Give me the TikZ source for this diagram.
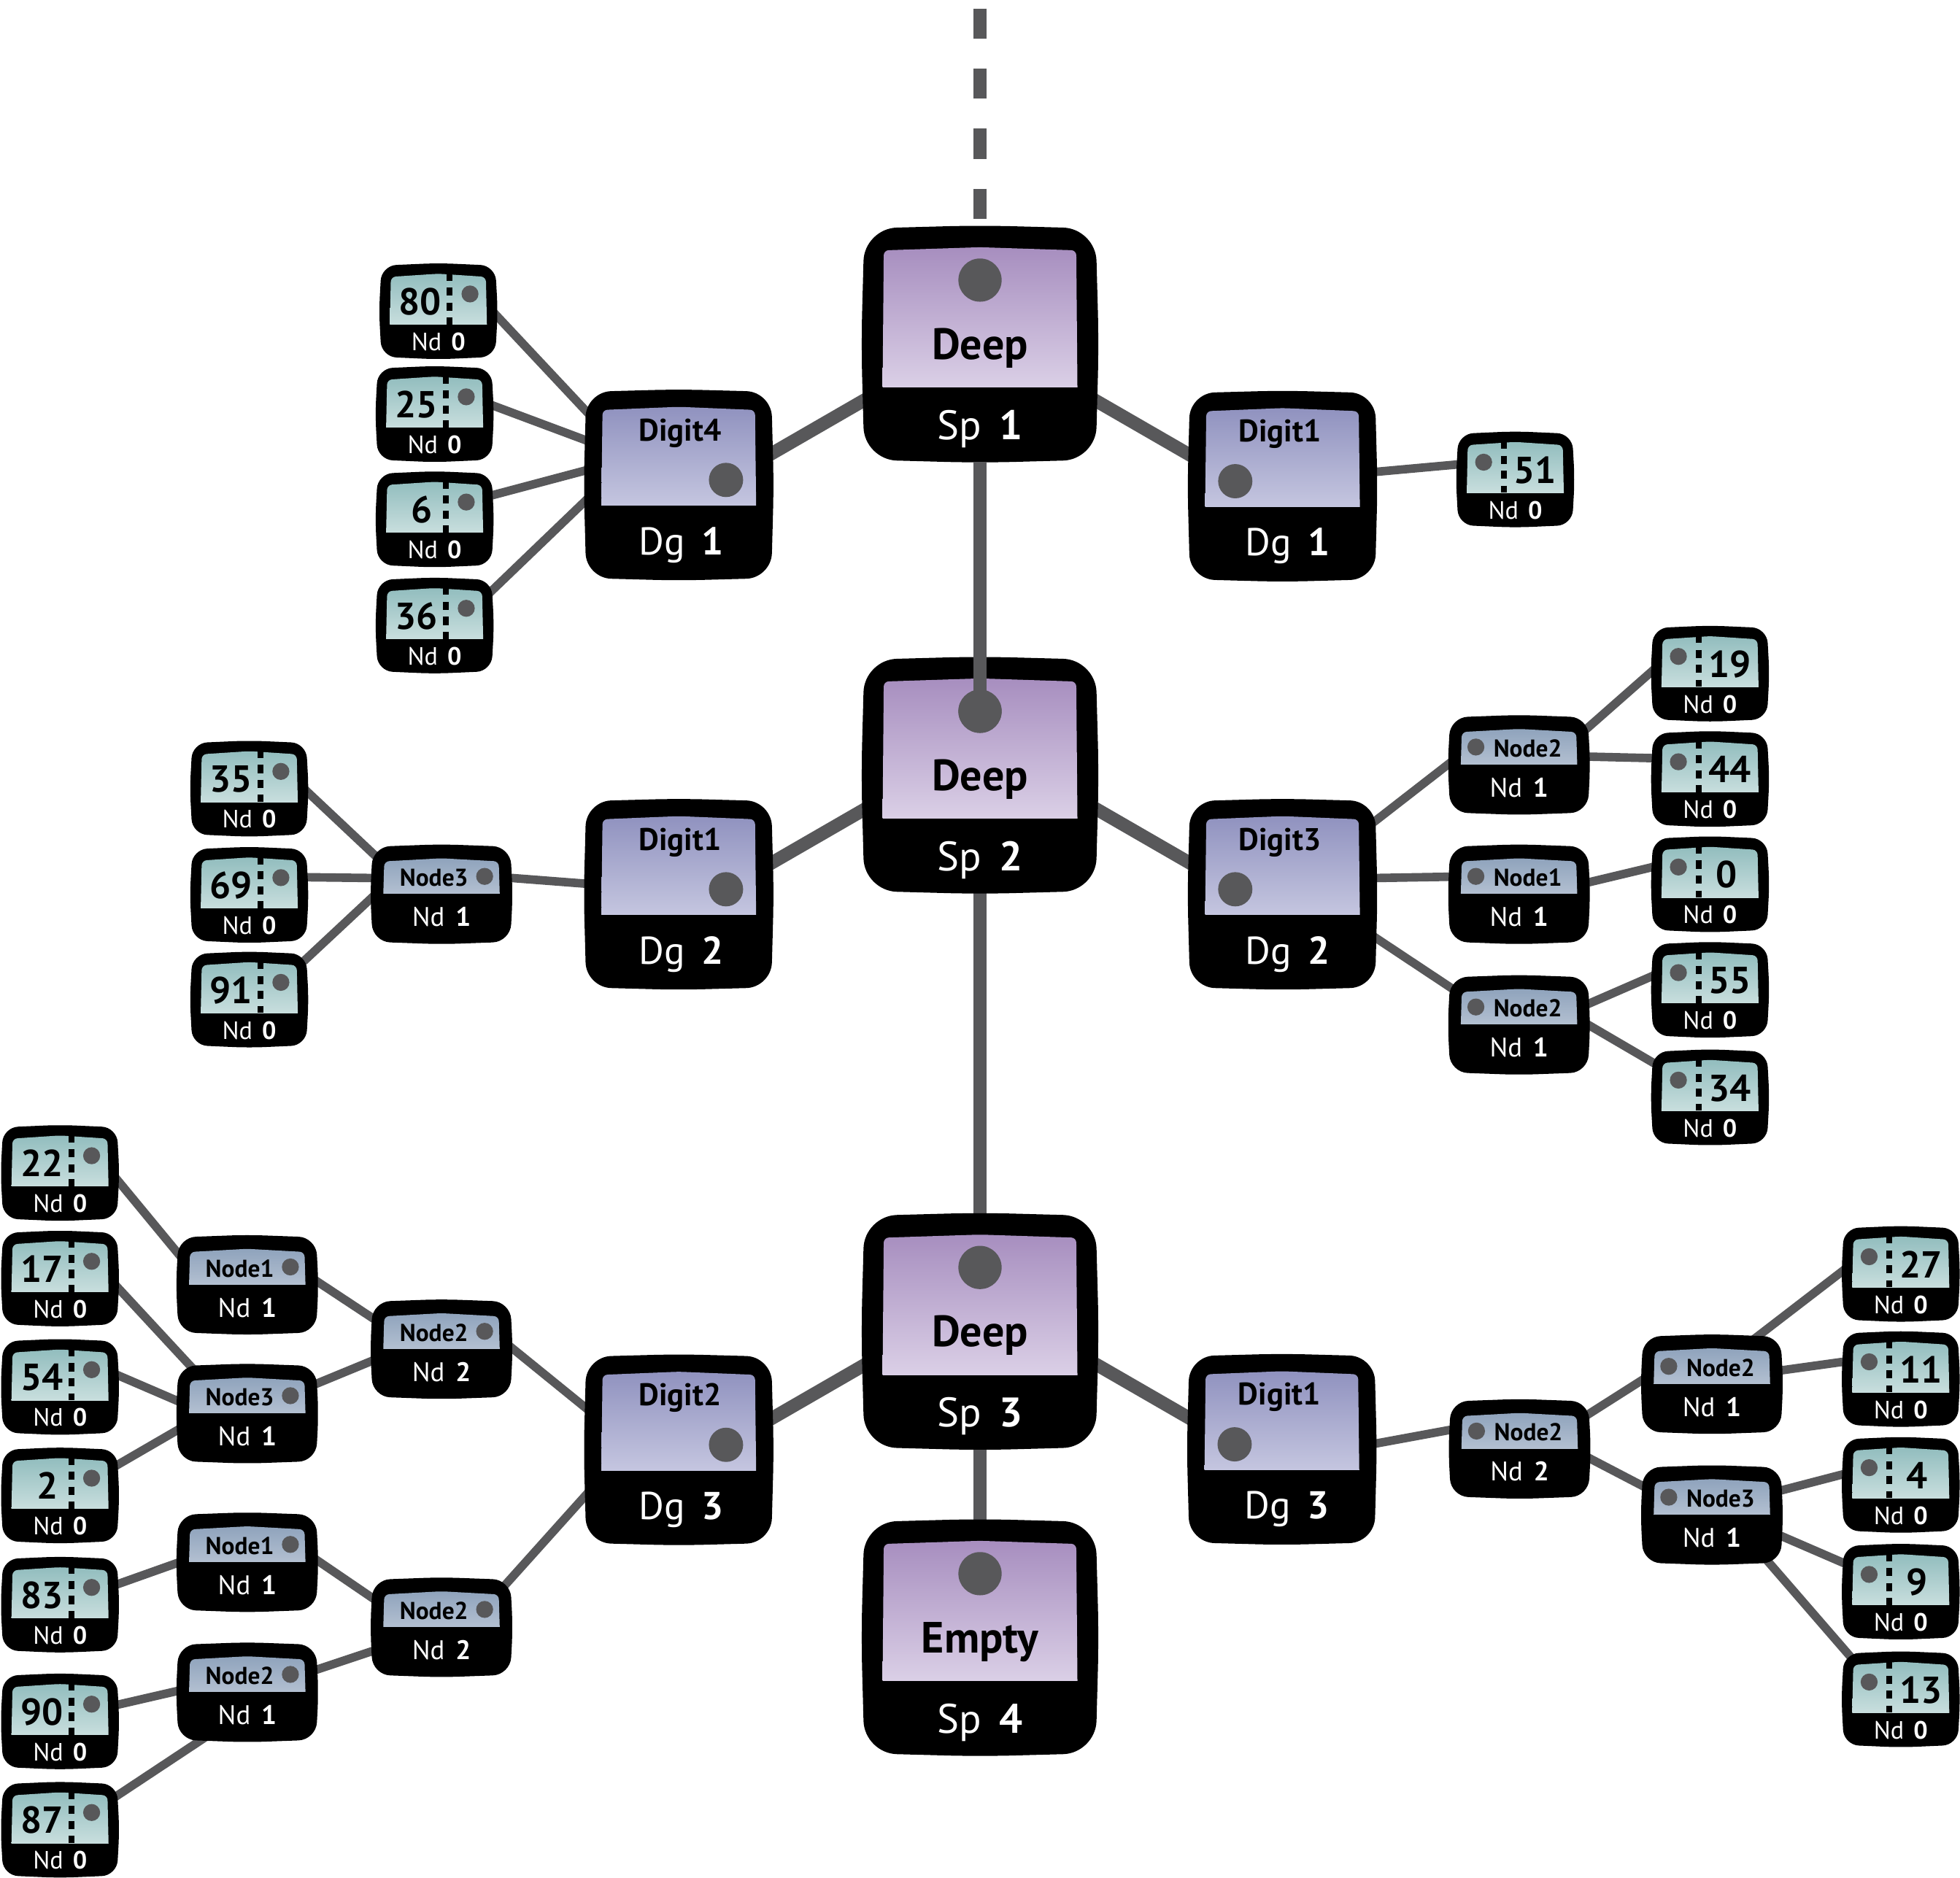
\documentclass[tikz,border=0pt]{standalone}
\usepackage{fontspec}
\setmainfont{PT Sans}
\usetikzlibrary{calc}
\pgfdeclarelayer{bg}
\pgfdeclarelayer{fg}
\pgfsetlayers{bg,main,fg}
\definecolor{conncol}{HTML}{58585A}
\definecolor{deepTop}{HTML}{A78EBF}
\definecolor{deepBot}{HTML}{DED4E9}
\definecolor{digTop}{HTML}{9092BF}
\definecolor{digBot}{HTML}{CACBE3}
\definecolor{nodeTop}{HTML}{8FA3BC}
\definecolor{nodeBot}{HTML}{BDC8D7}
\definecolor{leafTop}{HTML}{92BDBE}
\definecolor{leafBot}{HTML}{D3E5E4}
\newcommand\fDeep{\fontsize{35}{35}\selectfont\bfseries}
\newcommand\fSp{\fontsize{33}{33}\selectfont}
\newcommand\fDigit{\fontsize{25}{25}\selectfont\bfseries}
\newcommand\fDg{\fontsize{31}{31}\selectfont}
\newcommand\fNode{\fontsize{19.5}{19.5}\selectfont\bfseries}
\newcommand\fNd{\fontsize{21.5}{21.5}\selectfont}
\newcommand\fLeaf{\fontsize{30}{30}\selectfont\bfseries}
\newcommand\fLnd{\fontsize{20}{20}\selectfont}
\tikzset{
  conn/.style={draw=conncol, line width=6.8pt, shorten <=-6pt, shorten >=-6pt},
  spconn/.style={draw=conncol, line width=10.5pt},
  boxanchor/.style={draw=none, inner sep=0pt, outer sep=0pt, rectangle},
  txt/.style={anchor=base, inner sep=0pt, outer sep=0pt},
  dotc/.style={fill=conncol},
}
% cx cy hw hh r bulge
\newcommand\tvshape[6]{%
  \fill[black, rounded corners=#5] ({#1},{#2-#4}) -- ({#1+#3-#6},{#2-#4+#6}) -- ({#1+#3},{#2}) -- ({#1+#3-#6},{#2+#4-#6}) -- ({#1},{#2+#4}) -- ({#1-#3+#6},{#2+#4-#6}) -- ({#1-#3},{#2}) -- ({#1-#3+#6},{#2-#4+#6}) -- cycle;}
% x0 ytop x1 ybot topcolor botcolor
\newcommand\tvpanel[6]{%
  \begin{scope}
    \clip ({#1-2},{#2-4}) rectangle ({#3+2},{#4});
    \shade[top color=#5, bottom color=#6, rounded corners=4pt] ({#1},{#4+8}) -- ({#1+1},{#2+2.5}) -- ({(#1+#3)/2},{#2}) -- ({#3-1},{#2+2.5}) -- ({#3},{#4+8}) -- cycle;
  \end{scope}}
% name cx cy label num
\newcommand\spbox[5]{%
  \tvshape{#2}{#3}{95}{95}{26}{2.5}
  \node[boxanchor, minimum width=188pt, minimum height=189pt] (#1) at ({#2},{#3}) {};
  \tvpanel{#2-78}{#3-77.5}{#2+78}{#3+34.5}{deepTop}{deepBot}
  \coordinate (#1dot) at ({#2},{#3-51.2});
  \fill[dotc] (#1dot) circle (17.3);
  \node[txt, font=\fDeep] (#1-lab) at ({#2},{#3+12}) {#4};
  \node[txt, font=\fSp, text=white] (#1-num) at ({#2},{#3+76.5}) {Sp\hspace{0.42em}\textbf{#5}};
}
% name cx cy label num side
\newcommand\digitbox[6]{%
  \tvshape{#2}{#3}{76}{76.5}{20}{2}
  \node[boxanchor, minimum width=150pt, minimum height=152pt] (#1) at ({#2},{#3}) {};
  \tvpanel{#2-62}{#3-62.5}{#2+62}{#3+16.5}{digTop}{digBot}
  \coordinate (#1dot) at ({#2+37.8*#6},{#3-4});
  \fill[dotc] (#1dot) circle (13.7);
  \node[txt, font=\fDigit] (#1-lab) at ({#2-0.5+1.5*#6},{#3-35.3}) {#4};
  \node[txt, font=\fDg, text=white] (#1-num) at ({#2+3-#6},{#3+55.7}) {Dg\hspace{0.42em}\textbf{#5}};
}
% name cx cy label num side
\newcommand\nodebox[6]{%
  \tvshape{#2}{#3}{57}{40}{14}{2}
  \node[boxanchor, minimum width=113pt, minimum height=79pt] (#1) at ({#2},{#3}) {};
  \tvpanel{#2-46.8}{#3-28.8}{#2+46.8}{#3-0.5}{nodeTop}{nodeBot}
  \fill[dotc] ({#2+34.5*#6},{#3-14.3}) circle (6.8);
  \node[txt, font=\fNode] (#1-lab) at ({#2+0.5-6.5*#6},{#3-6.4}) {#4};
  \node[txt, font=\fNd, text=white] (#1-num) at ({#2},{#3+25.7}) {Nd\hspace{0.4em}\textbf{#5}};
}
% name cx cy number numdx side
\newcommand\leafbox[6]{%
  \tvshape{#2}{#3}{47.5}{38.5}{12}{2}
  \node[boxanchor, minimum width=94pt, minimum height=76pt] (#1) at ({#2},{#3}) {};
  \tvpanel{#2-39}{#3-30}{#2+39}{#3+10.6}{leafTop}{leafBot}
  \draw[black, line width=4.6pt, dash pattern=on 6.5pt off 5.5pt] ({#2+9*#6},{#3-31}) -- ({#2+9*#6},{#3+10.6});
  \fill[dotc] ({#2+25.3*#6},{#3-13.8}) circle (6.8);
  \node[txt, font=\fLeaf] (#1-lab) at ({#2+#5},{#3+2.9}) {#4};
  \node[txt, font=\fLnd, text=white] (#1-num) at ({#2},{#3+31.5}) {Nd\hspace{0.38em}\textbf{0}};
}
\newcommand\lnk[6]{\draw[conn] ([shift={(#2,#3)}]#1.center) -- ([shift={(#5,#6)}]#4.center);}
\begin{document}
\begin{tikzpicture}[x=1pt,y=-1pt]
\useasboundingbox (0,0) rectangle (1568,1502.6);
\coordinate (topend) at (784,7);
% spine
\spbox{sp1}{784}{275.3}{Deep}{1}
\spbox{sp2}{784}{620.3}{Deep}{2}
\spbox{sp3}{784}{1065.3}{Deep}{3}
\spbox{sp4}{784}{1310.3}{Empty}{4}
% digits
\digitbox{d4}{543}{388}{Digit4}{1}{1}
\digitbox{d1a}{1026}{389}{Digit1}{1}{(-1)}
\digitbox{d1b}{543}{715.5}{Digit1}{2}{1}
\digitbox{d3}{1026}{715.5}{Digit3}{2}{(-1)}
\digitbox{d2}{543}{1160}{Digit2}{3}{1}
\digitbox{d1c}{1025.5}{1159.6}{Digit1}{3}{(-1)}
% inner nodes
\nodebox{n3a}{353.2}{715.5}{Node3}{1}{1}
\nodebox{n2u}{353.2}{1079.5}{Node2}{2}{1}
\nodebox{n2l}{353.2}{1302}{Node2}{2}{1}
\nodebox{n1a}{197.8}{1028}{Node1}{1}{1}
\nodebox{n3b}{197.8}{1131}{Node3}{1}{1}
\nodebox{n1c}{197.8}{1250}{Node1}{1}{1}
\nodebox{n2d}{197.8}{1354}{Node2}{1}{1}
\nodebox{n2a}{1215.2}{612}{Node2}{1}{(-1)}
\nodebox{n1}{1215.2}{715.5}{Node1}{1}{(-1)}
\nodebox{n2b}{1215.2}{820}{Node2}{1}{(-1)}
\nodebox{n2m}{1215.7}{1159.3}{Node2}{2}{(-1)}
\nodebox{n2r}{1369.5}{1107.5}{Node2}{1}{(-1)}
\nodebox{n3r}{1369.5}{1212.2}{Node3}{1}{(-1)}
% leaves
\leafbox{l80}{350.7}{249}{80}{(-14.5)}{1}
\leafbox{l25}{347.7}{331.3}{25}{(-14.5)}{1}
\leafbox{l6}{347.7}{415.5}{6}{(-10)}{1}
\leafbox{l36}{347.7}{500.5}{36}{(-14.5)}{1}
\leafbox{l35}{199.4}{631}{35}{(-14.5)}{1}
\leafbox{l69}{199.4}{716}{69}{(-14.5)}{1}
\leafbox{l91}{199.4}{799.8}{91}{(-14.5)}{1}
\leafbox{l22}{48}{938.5}{22}{(-14.5)}{1}
\leafbox{l17}{48}{1023}{17}{(-14.5)}{1}
\leafbox{l54}{48}{1109.7}{54}{(-14.5)}{1}
\leafbox{l2}{48}{1196.5}{2}{(-10)}{1}
\leafbox{l83}{48}{1283.9}{83}{(-14.5)}{1}
\leafbox{l90}{48}{1377.3}{90}{(-14.5)}{1}
\leafbox{l87}{48}{1464}{87}{(-14.5)}{1}
\leafbox{l51}{1212.2}{383.6}{51}{16}{(-1)}
\leafbox{l19}{1368}{539}{19}{16}{(-1)}
\leafbox{l44}{1368}{623.3}{44}{16}{(-1)}
\leafbox{l0}{1368}{707.5}{0}{13}{(-1)}
\leafbox{l55}{1368}{792}{55}{16}{(-1)}
\leafbox{l34}{1368}{878}{34}{16}{(-1)}
\leafbox{l27}{1520.6}{1019.3}{27}{16}{(-1)}
\leafbox{l11}{1520.6}{1103.4}{11}{16}{(-1)}
\leafbox{l4}{1520.6}{1188.1}{4}{13}{(-1)}
\leafbox{l9}{1520.6}{1273.5}{9}{13}{(-1)}
\leafbox{l13}{1520.6}{1359.6}{13}{16}{(-1)}
% connectors behind the boxes
\begin{pgfonlayer}{bg}
\draw[spconn, dash pattern=on 24pt off 24pt] (topend) -- (sp1.center);
\draw[spconn] (sp2) -- (sp3);
\draw[spconn] (sp3) -- (sp4);
\draw[spconn] (d4dot) -- ++(-30:200);
\draw[spconn] (d1bdot) -- ++(-30:200);
\draw[spconn] (d2dot) -- ++(-30:200);
\draw[spconn] (d1adot) -- ++(-150:200);
\draw[spconn] (d3dot) -- ++(-150:200);
\draw[spconn] (d1cdot) -- ++(-150:200);
\lnk{l80}{47}{4}{d4}{-75}{-60}
\lnk{l25}{48}{-6.3}{d4}{-75}{-36}
\lnk{l6}{47}{-19.5}{d4}{-75}{-11.5}
\lnk{l36}{43.5}{-25.7}{d4}{-75}{13}
\lnk{d1a}{75}{-11.5}{l51}{-46}{-12}
\lnk{l35}{47.4}{3.4}{n3a}{-50.6}{-28.6}
\lnk{l69}{47.4}{-14.1}{n3a}{-55.5}{-13}
\lnk{l91}{44}{-31.1}{n3a}{-55.5}{2.5}
\lnk{n3a}{56.5}{-13}{d1b}{-75}{-8.5}
\lnk{d3}{74}{-58.5}{n2a}{-56}{-1}
\lnk{n2a}{51.6}{-26.7}{l19}{-46.7}{-1.7}
\lnk{n2a}{56.5}{-6.6}{l44}{-45.8}{-16.7}
\lnk{d3}{75}{-13}{n1}{-56.4}{-14}
\lnk{n1}{55.5}{-9.5}{l0}{-45.8}{-13.8}
\lnk{d3}{74}{34.5}{n2b}{-55.4}{-30.3}
\lnk{n2b}{55.5}{-16.8}{l55}{-45.8}{-11.2}
\lnk{n2b}{55.5}{0}{l34}{-46}{-28}
\lnk{l22}{46.4}{6.2}{n1a}{-52.8}{-22}
\lnk{l17}{46.4}{7.4}{n3b}{-44}{-36.5}
\lnk{l54}{46.4}{-9.3}{n3b}{-55.8}{-10.1}
\lnk{l2}{43.5}{-23}{n3b}{-55.8}{13.2}
\lnk{n1a}{56.2}{-2.5}{n2u}{-55.3}{-25}
\lnk{n3b}{55.2}{-23.8}{n2u}{-55.3}{9.2}
\lnk{n2u}{56.3}{-1}{d2}{-75}{-34}
\lnk{l83}{46.4}{-16.5}{n1c}{-56.1}{0.6}
\lnk{n1c}{56.2}{-1.4}{n2l}{-55.5}{-23.6}
\lnk{l90}{46.4}{-13.4}{n2d}{-56.1}{-1}
\lnk{l87}{44.5}{-26.5}{n2d}{-36.3}{37.8}
\lnk{n2d}{55.2}{-18}{n2l}{-55.5}{19.1}
\lnk{n2l}{49}{-31.7}{d2}{-75}{37}
\lnk{d1c}{75.6}{-4.7}{n2m}{-56.5}{-15.1}
\lnk{n2m}{52.7}{-26.3}{n2r}{-55.5}{-3.5}
\lnk{n2m}{54.6}{6.8}{n3r}{-54.5}{-22.8}
\lnk{n2r}{36.1}{-37.9}{l27}{-47}{-2}
\lnk{n2r}{56.5}{-11.2}{l11}{-47}{-13.7}
\lnk{n3r}{56.5}{-20}{l4}{-47}{-8.3}
\lnk{n3r}{56.5}{17.2}{l9}{-47}{-23.5}
\lnk{n3r}{43}{35}{l13}{-40}{-33.8}
\end{pgfonlayer}
% the link from Sp 1 runs over the Sp 2 box to its dot
\begin{pgfonlayer}{fg}
\draw[spconn] (sp1.south) -- (sp2dot);
\fill[dotc] (sp2dot) circle (17.3);
\end{pgfonlayer}
\end{tikzpicture}
\end{document}
